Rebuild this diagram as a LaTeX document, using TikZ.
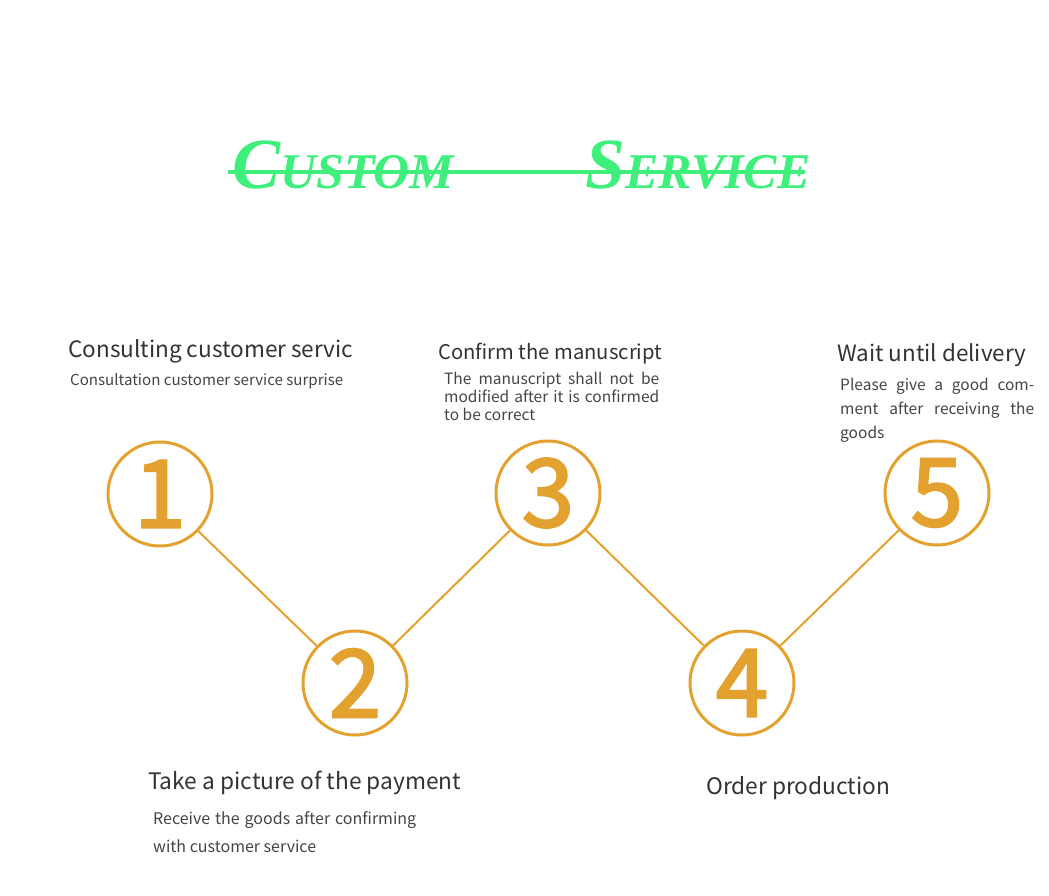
\documentclass[tikz,border=0pt]{standalone}
\usepackage{fontspec}
\usepackage{graphicx}
\newfontfamily\cjkf{Noto Sans CJK SC}
\newfontfamily\digf{Noto Sans CJK SC}[FakeBold=2.5]
\newfontfamily\ttlf{Liberation Serif}
\definecolor{org}{HTML}{E3A12F}
\definecolor{grn}{HTML}{3FEF7B}
\definecolor{txtd}{HTML}{333333}
\definecolor{txtl}{HTML}{444444}
\tikzset{
  circ/.style={circle, draw=org, line width=3pt, minimum size=104pt, inner sep=0pt,
    text=org, font=\digf\fontsize{94}{94}\selectfont},
  conn/.style={draw=org, line width=2pt},
  head/.style={anchor=base west, inner sep=0pt, text=txtd},
  desc/.style={anchor=base west, inner sep=0pt, text=txtl},
  ttl/.style={anchor=base west, inner sep=0pt, text=grn, font=\ttlf\bfseries\itshape},
}
\begin{document}
\begin{tikzpicture}[x=1pt,y=-1pt]
\useasboundingbox (0,0) rectangle (1049,895);
% title
\node[ttl] (tc) at (232,188) {{\fontsize{72}{72}\selectfont C}{\fontsize{50}{50}\selectfont USTOM}};
\node[ttl] (ts) at (585,188) {{\fontsize{72}{72}\selectfont S}{\fontsize{50}{50}\selectfont ERVICE}};
\coordinate (sl) at (228,172);
\coordinate (sr) at (805,172);
\draw[grn, line width=4pt] (sl) -- (sr);
% circles
\node[circ] (n1) at (160,494) {1};
\node[circ] (n2) at (355,683) {2};
\node[circ] (n3) at (548,493) {3};
\node[circ] (n4) at (742,683) {4};
\node[circ] (n5) at (937,493) {5};
\draw[conn] (n1) -- (n2);
\draw[conn] (n2) -- (n3);
\draw[conn] (n3) -- (n4);
\draw[conn] (n4) -- (n5);
% step 1
\node[head] (h1) at (68,357) {\resizebox{285pt}{!}{\cjkf Consulting customer servic}};
\node[desc] (d1) at (70,385) {\resizebox{273pt}{!}{\cjkf Consultation customer service surprise}};
% step 3
\node[head] (h3) at (438,359) {\resizebox{224pt}{!}{\cjkf Confirm the manuscript}};
\node[desc, font=\cjkf\fontsize{15.5}{18}\selectfont] (d3a) at (444,384) {\makebox[215pt][s]{The manuscript shall not be}};
\node[desc, font=\cjkf\fontsize{15.5}{18}\selectfont] (d3b) at (444,402) {\makebox[215pt][s]{modified after it is confirmed}};
\node[desc, font=\cjkf\fontsize{15.5}{18}\selectfont] (d3c) at (444,420) {to be correct};
% step 5
\node[head] (h5) at (837,361) {\resizebox{189pt}{!}{\cjkf Wait until delivery}};
\node[desc, font=\cjkf\fontsize{15.5}{24}\selectfont] (d5a) at (840,390) {\makebox[194pt][s]{Please give a good com-}};
\node[desc, font=\cjkf\fontsize{15.5}{24}\selectfont] (d5b) at (840,414) {\makebox[194pt][s]{ment after receiving the}};
\node[desc, font=\cjkf\fontsize{15.5}{24}\selectfont] (d5c) at (840,438) {goods};
% step 2
\node[head] (h2) at (148,789) {\resizebox{313pt}{!}{\cjkf Take a picture of the payment}};
\node[desc, font=\cjkf\fontsize{16}{28}\selectfont] (d2a) at (153,824) {\makebox[263pt][s]{Receive the goods after confirming}};
\node[desc, font=\cjkf\fontsize{16}{28}\selectfont] (d2b) at (153,852) {with customer service};
% step 4
\node[head] (h4) at (706,794) {\resizebox{184pt}{!}{\cjkf Order production}};
\end{tikzpicture}
\end{document}
